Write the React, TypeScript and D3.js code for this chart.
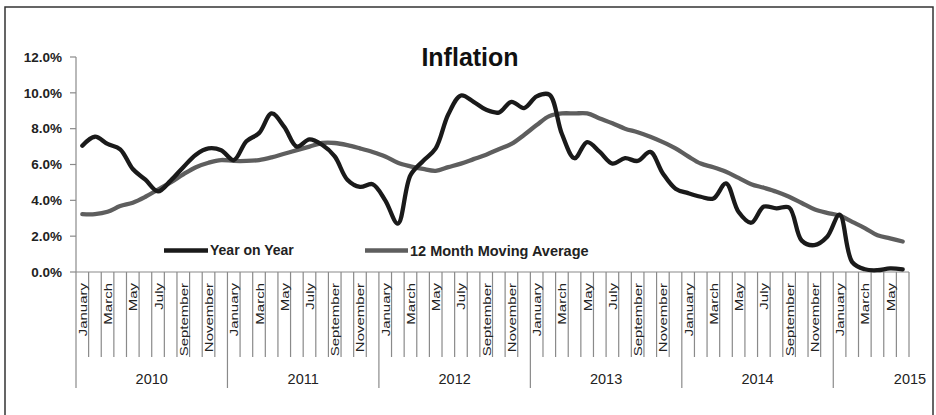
import React from "react";
import * as d3 from "d3";

const monthNames = ["January","February","March","April","May","June","July","August","September","October","November","December"];
const years = ["2010","2011","2012","2013","2014","2015"];
const yTicks = [0, 2, 4, 6, 8, 10, 12];

// Year on Year inflation, Jan 2010 – Jun 2015 (%)
const yearOnYear = [
  7.05, 7.55, 7.15, 6.85, 5.75, 5.15, 4.5, 5.1, 5.85, 6.55, 6.9, 6.8,
  6.25, 7.3, 7.75, 8.85, 8.1, 7.0, 7.4, 7.1, 6.45, 5.15, 4.75, 4.9,
  4.0, 2.7, 5.4, 6.2, 6.9, 8.8, 9.85, 9.5, 9.05, 8.9, 9.5, 9.15,
  9.8, 9.9, 7.7, 6.35, 7.25, 6.7, 6.05, 6.35, 6.2, 6.7, 5.5, 4.65,
  4.4, 4.2, 4.1, 4.95, 3.35, 2.75, 3.65, 3.55, 3.6, 1.75, 1.5, 1.95,
  3.2, 0.55, 0.15, 0.1, 0.2, 0.15,
];

// 12 Month Moving Average (%)
const movingAverage = [
  3.23, 3.23, 3.36, 3.68, 3.87, 4.2, 4.6, 5.0, 5.45, 5.85, 6.1, 6.25,
  6.2, 6.2, 6.25, 6.4, 6.6, 6.8, 7.0, 7.2, 7.2, 7.08, 6.9, 6.7,
  6.45, 6.1, 5.9, 5.75, 5.65, 5.85, 6.05, 6.3, 6.55, 6.85, 7.15, 7.65,
  8.2, 8.7, 8.85, 8.85, 8.85, 8.57, 8.3, 8.0, 7.8, 7.55, 7.25, 6.9,
  6.45, 6.05, 5.85, 5.6, 5.25, 4.9, 4.7, 4.48, 4.2, 3.85, 3.5, 3.3,
  3.15, 2.8, 2.45, 2.05, 1.88, 1.7,
];

const W = 936;
const H = 415;
const left = 76;
const right = 909;
const top = 57;
const bottom = 272;
const axisColor = "#8a8a8a";
const textColor = "#222";
const font = "'Liberation Sans', Arial, sans-serif";

export default function App() {
  const n = yearOnYear.length;
  const idx = d3.range(n);
  const x = d3.scaleBand<number>().domain(idx).range([left, right]).padding(0);
  const bw = x.bandwidth();
  const y = d3.scaleLinear().domain([0, 12]).range([bottom, top]);
  const cx = (i: number) => (x(i) as number) + bw / 2;

  const line = d3
    .line<number>()
    .x((_, i) => cx(i))
    .y((d) => y(d))
    .curve(d3.curveCatmullRom.alpha(0.5));

  const boundaries = d3.range(n + 1);
  const bx = (i: number) => (i < n ? (x(i) as number) : right);

  return (
    <svg
      width={W}
      height={H}
      style={{ position: "fixed", left: 0, top: 0, background: "#fff" }}
      fontFamily={font}
    >
      <rect x={0} y={0} width={W} height={H} fill="#fff" />
      <rect x={5} y={7} width={928} height={420} fill="none" stroke="#333" strokeWidth={1.5} />

      <text x={470} y={66} textAnchor="middle" fontSize={25} fontWeight="bold" fill="#111">
        Inflation
      </text>

      {/* Y axis */}
      <line x1={left} x2={left} y1={top} y2={bottom} stroke={axisColor} strokeWidth={1.2} />
      {yTicks.map((t) => (
        <g key={t}>
          <line x1={left - 6} x2={left} y1={y(t)} y2={y(t)} stroke={axisColor} strokeWidth={1.2} />
          <text
            x={62}
            y={y(t)}
            dy="0.35em"
            textAnchor="end"
            fontSize={13.5}
            fontWeight="bold"
            fill={textColor}
          >
            {t.toFixed(1) + "%"}
          </text>
        </g>
      ))}

      {/* X axis */}
      <line x1={left} x2={right} y1={bottom} y2={bottom} stroke={axisColor} strokeWidth={1.2} />
      {boundaries.map((i) => {
        const isYear = i % 12 === 0 && i < n;
        return (
          <line
            key={"b" + i}
            x1={bx(i)}
            x2={bx(i)}
            y1={bottom}
            y2={isYear ? 388 : 357}
            stroke={axisColor}
            strokeWidth={1.2}
          />
        );
      })}
      {idx
        .filter((i) => i % 2 === 0)
        .map((i) => (
          <text
            key={"m" + i}
            transform={`translate(${cx(i) + 4.5},283) rotate(-90) scale(1,0.78)`}
            textAnchor="end"
            fontSize={15}
            fill={textColor}
          >
            {monthNames[i % 12]}
          </text>
        ))}
      {years.map((yr, k) => {
        const start = bx(k * 12);
        const end = bx(Math.min((k + 1) * 12, n));
        const full = (k + 1) * 12 <= n;
        const xc = full ? (start + end) / 2 : end + 1;
        return (
          <text key={yr} x={xc} y={384} textAnchor="middle" fontSize={14.5} fill={textColor}>
            {yr}
          </text>
        );
      })}

      {/* Series */}
      <path d={line(movingAverage) || ""} fill="none" stroke="#5e5e5e" strokeWidth={4.3} strokeLinejoin="round" strokeLinecap="round" />
      <path d={line(yearOnYear) || ""} fill="none" stroke="#1a1a1a" strokeWidth={4.3} strokeLinejoin="round" strokeLinecap="round" />

      {/* Legend */}
      <line x1={164} x2={208} y1={250.5} y2={250.5} stroke="#1a1a1a" strokeWidth={4.5} />
      <text x={210} y={250.5} dy="0.35em" fontSize={14} fontWeight="bold" fill={textColor}>
        Year on Year
      </text>
      <line x1={365} x2={408} y1={250.5} y2={250.5} stroke="#5e5e5e" strokeWidth={4.5} />
      <text x={410} y={250.5} dy="0.35em" fontSize={14.5} fontWeight="bold" fill={textColor}>
        12 Month Moving Average
      </text>
    </svg>
  );
}
